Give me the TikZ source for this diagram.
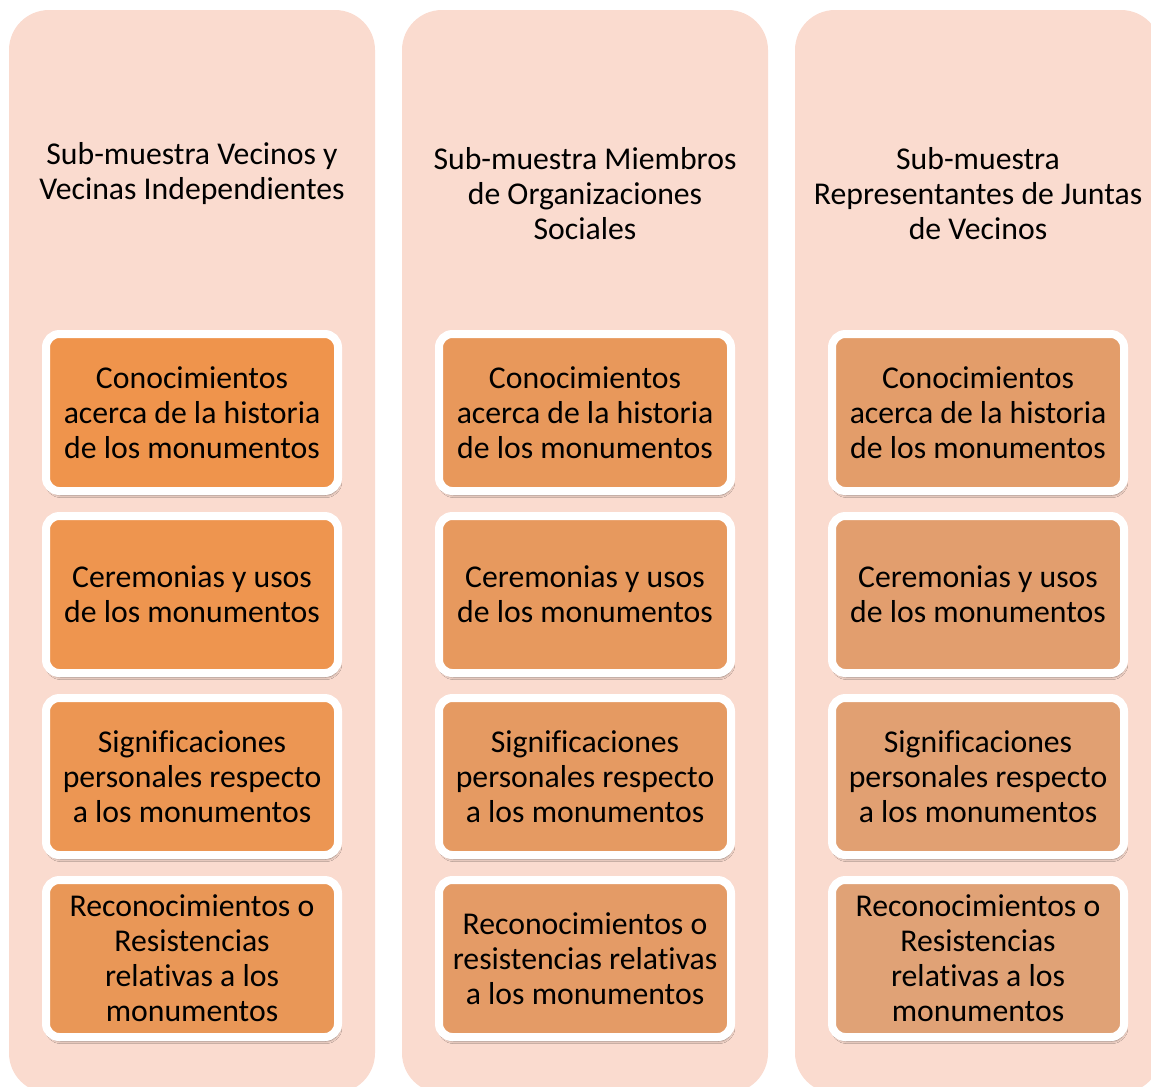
\documentclass[tikz,border=0pt]{standalone}
\usepackage{fontspec}
\setmainfont[Ligatures={NoCommon}]{Carlito}
\usetikzlibrary{shadows.blur}
\definecolor{colbg}{HTML}{FADBCF}
\definecolor{ca1}{HTML}{EF944C}
\definecolor{ca2}{HTML}{EE954F}
\definecolor{ca3}{HTML}{EC9653}
\definecolor{ca4}{HTML}{E99757}
\definecolor{cb1}{HTML}{E8985B}
\definecolor{cb2}{HTML}{E7995E}
\definecolor{cb3}{HTML}{E59A62}
\definecolor{cb4}{HTML}{E49B66}
\definecolor{cc1}{HTML}{E39D6A}
\definecolor{cc2}{HTML}{E29E6E}
\definecolor{cc3}{HTML}{E1A072}
\definecolor{cc4}{HTML}{E0A276}
\tikzset{
  colshape/.style={fill=colbg, draw=none, rounded corners=30pt},
  headtxt/.style={align=center, inner sep=0pt, font=\fontsize{23.8}{26.25}\selectfont},
  itembox/.style={draw=white, line width=6pt, rounded corners=10pt,
    minimum width=219pt, minimum height=117.75pt, inner sep=0pt, outer sep=0pt,
    align=center, font=\fontsize{23.8}{26.25}\selectfont,
    blur shadow={shadow xshift=1pt, shadow yshift=-3pt, shadow blur steps=6, shadow blur extra rounding=2pt, shadow opacity=45}}
}
\begin{document}
\begin{tikzpicture}[x=0.75pt, y=-0.75pt]
\useasboundingbox (0,0) rectangle (1151,1086);
\clip (0,0) rectangle (1151,1086);
% columns
\fill[colshape] (9,10) rectangle (375,1093);
\fill[colshape] (402,10) rectangle (768,1093);
\fill[colshape] (795,10) rectangle (1161,1093);
% headers
\node[headtxt] (h1) at (192,174) {Sub-muestra Vecinos y\\Vecinas Independientes};
\node[headtxt] (h2) at (585,194) {Sub-muestra Miembros\\de Organizaciones\\Sociales};
\node[headtxt] (h3) at (978,194) {Sub-muestra\\Representantes de Juntas\\de Vecinos};
% column 1
\node[itembox, fill=ca1] (a1) at (192,412.5) {Conocimientos\\acerca de la historia\\de los monumentos};
\node[itembox, fill=ca2] (a2) at (192,594.5) {Ceremonias y usos\\de los monumentos};
\node[itembox, fill=ca3] (a3) at (192,776.5) {Significaciones\\personales respecto\\a los monumentos};
\node[itembox, fill=ca4] (a4) at (192,958.5) {Reconocimientos o\\Resistencias\\relativas a los\\monumentos};
% column 2
\node[itembox, fill=cb1] (b1) at (585,412.5) {Conocimientos\\acerca de la historia\\de los monumentos};
\node[itembox, fill=cb2] (b2) at (585,594.5) {Ceremonias y usos\\de los monumentos};
\node[itembox, fill=cb3] (b3) at (585,776.5) {Significaciones\\personales respecto\\a los monumentos};
\node[itembox, fill=cb4] (b4) at (585,958.5) {Reconocimientos o\\resistencias relativas\\a los monumentos};
% column 3
\node[itembox, fill=cc1] (c1) at (978,412.5) {Conocimientos\\acerca de la historia\\de los monumentos};
\node[itembox, fill=cc2] (c2) at (978,594.5) {Ceremonias y usos\\de los monumentos};
\node[itembox, fill=cc3] (c3) at (978,776.5) {Significaciones\\personales respecto\\a los monumentos};
\node[itembox, fill=cc4] (c4) at (978,958.5) {Reconocimientos o\\Resistencias\\relativas a los\\monumentos};
\end{tikzpicture}
\end{document}
